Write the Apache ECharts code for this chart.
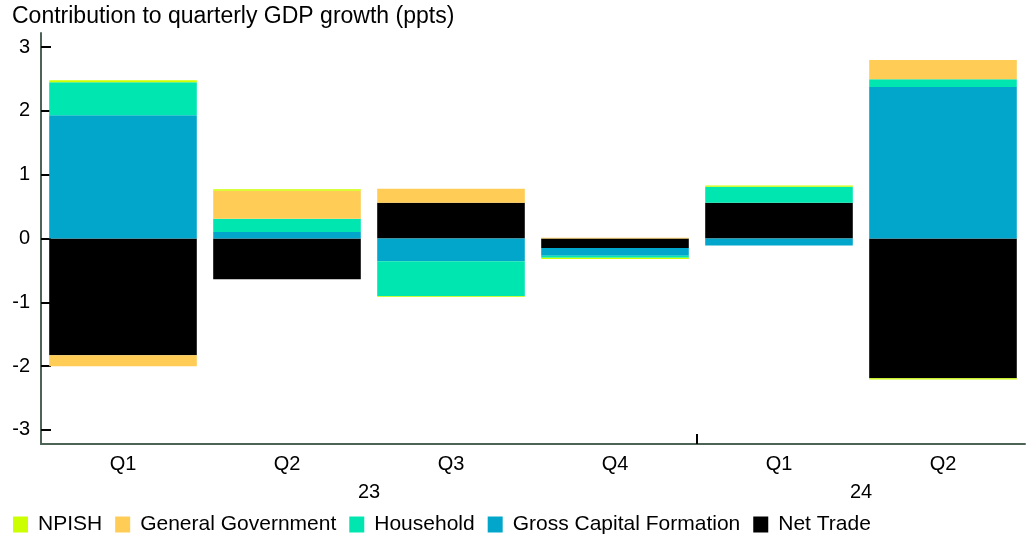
<!DOCTYPE html>
<html>
<head>
    <meta charset="utf-8"/>
    <title>Contribution to quarterly GDP growth</title>
    <script src="https://cdn.jsdelivr.net/npm/echarts@6/dist/echarts.min.js"></script>
    <style>
        html, body { margin: 0; padding: 0; background: #fff; }
        #main { width: 1026px; height: 537px; }
    </style>
</head>
<body>
<div id="main"></div>
<script type="text/javascript">
    // quarters and years
    var quarters = ['Q1', 'Q2', 'Q3', 'Q4', 'Q1', 'Q2'];
    var years = ['23', '24'];
    var quartersPerYear = [4, 2];
    var yTicks = [-3, -2, -1, 0, 1, 2, 3];

    // contributions (ppts)
    var netTrade = [-1.83, -0.64, 0.56, -0.15, 0.56, -2.19];
    var grossCapital = [1.93, 0.10, -0.355, -0.12, -0.11, 2.375];
    var household = [0.52, 0.21, -0.55, -0.03, 0.25, 0.12];
    var generalGov = [-0.17, 0.44, 0.22, 0.01, 0, 0.30];
    var npish = [0.03, 0.02, -0.01, -0.02, 0.02, -0.02];

    // year label positions = middle of each year's run of quarters
    var yearCentres = [], yearBounds = [], acc = 0;
    for (var i = 0; i < quartersPerYear.length; i++) {
        yearCentres.push(acc + quartersPerYear[i] / 2);
        acc += quartersPerYear[i];
        if (i < quartersPerYear.length - 1) yearBounds.push(acc);
    }

    var font = 'Liberation Sans, Arial, sans-serif';
    var myChart = echarts.init(document.getElementById('main'), null, {renderer: 'canvas'});

    function bar(name, data, color) {
        return {
            name: name,
            type: 'bar',
            stack: 'gdp',
            barCategoryGap: '10%',
            itemStyle: {color: color},
            data: data
        };
    }

    var option = {
        animation: false,
        textStyle: {fontFamily: font},
        title: {
            text: 'Contribution to quarterly GDP growth (ppts)',
            left: 12,
            top: 5,
            padding: 0,
            textStyle: {fontFamily: font, fontSize: 23, fontWeight: 'normal', color: '#000'}
        },
        legend: {
            left: 13,
            top: 514,
            padding: 0,
            itemWidth: 15,
            itemHeight: 16,
            itemGap: 13,
            icon: 'rect',
            data: ['NPISH', 'General Government', 'Household', 'Gross Capital Formation', 'Net Trade'],
            textStyle: {fontFamily: font, fontSize: 21, color: '#000', padding: [0, 0, 0, 5]}
        },
        grid: {left: 41, right: 1, top: 33, bottom: 93, containLabel: false},
        xAxis: [
            {
                type: 'category',
                data: quarters,
                axisLine: {onZero: false, lineStyle: {color: '#4d6356', width: 2}},
                axisTick: {inside: true, length: 4, lineStyle: {color: '#000', width: 2}},
                axisLabel: {fontFamily: font, fontSize: 20, color: '#000', margin: 10},
                splitLine: {show: false}
            },
            {
                type: 'value',
                position: 'bottom',
                min: 0,
                max: quarters.length,
                axisLine: {show: false, onZero: false},
                axisTick: {show: true, inside: true, length: 10, customValues: yearBounds,
                    lineStyle: {color: '#000', width: 2}},
                axisLabel: {show: true, customValues: yearCentres, margin: 38,
                    fontFamily: font, fontSize: 20, color: '#000',
                    formatter: function (v) { return years[yearCentres.indexOf(v)]; }},
                splitLine: {show: false}
            }
        ],
        yAxis: {
            type: 'value',
            min: -3.22,
            max: 3.22,
            axisLine: {show: true, lineStyle: {color: '#4d6356', width: 2}},
            axisTick: {show: true, inside: true, length: 10, customValues: yTicks,
                lineStyle: {color: '#000', width: 2}},
            axisLabel: {customValues: yTicks, fontFamily: font, fontSize: 20, color: '#000', margin: 11},
            splitLine: {show: false}
        },
        series: [
            bar('Net Trade', netTrade, '#000000'),
            bar('Gross Capital Formation', grossCapital, '#02A6CB'),
            bar('Household', household, '#00E6B1'),
            bar('General Government', generalGov, '#FFCC55'),
            bar('NPISH', npish, '#CCFF00')
        ]
    };
    myChart.setOption(option);
</script>
</body>
</html>
